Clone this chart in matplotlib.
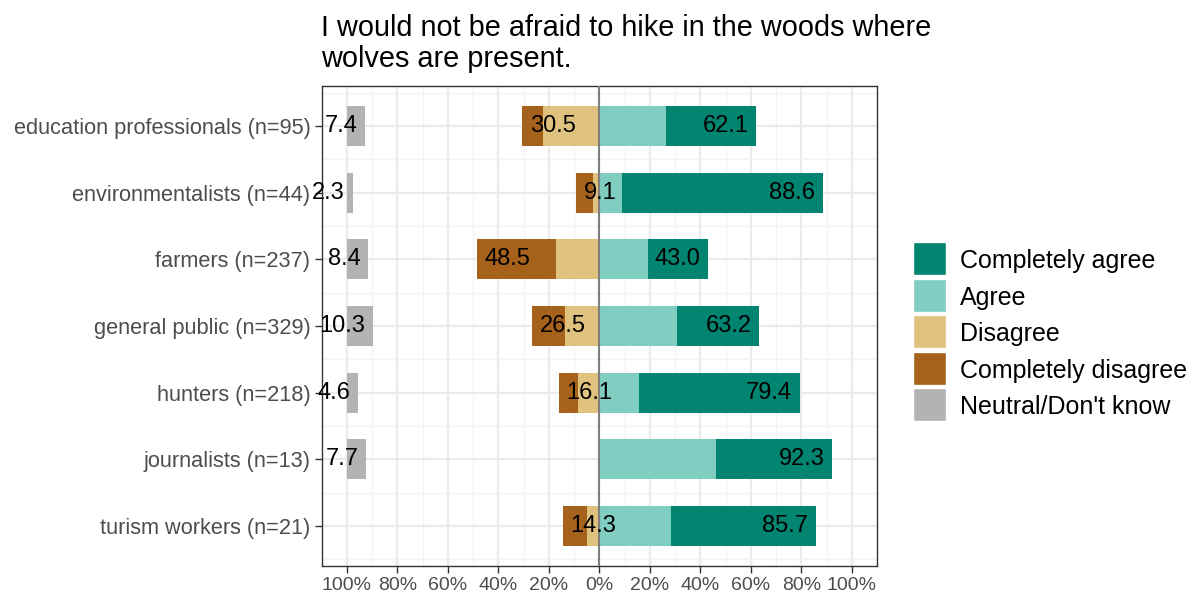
import matplotlib.pyplot as plt
import matplotlib.patches as mpatches
import numpy as np

plt.rcParams['font.family'] = ['Liberation Sans', 'DejaVu Sans']

# data (percent of respondents)
groups = ['education professionals (n=95)', 'environmentalists (n=44)',
          'farmers (n=237)', 'general public (n=329)', 'hunters (n=218)',
          'journalists (n=13)', 'turism workers (n=21)']
completely_agree = [35.8, 79.5, 23.6, 32.5, 63.6, 46.1, 57.1]
agree = [26.3, 9.1, 19.4, 30.7, 15.8, 46.2, 28.6]
disagree = [22.1, 2.3, 17.3, 13.4, 8.3, 0.0, 4.8]
completely_disagree = [8.4, 6.8, 31.2, 13.1, 7.8, 0.0, 9.5]
neutral = [7.4, 2.3, 8.4, 10.3, 4.6, 7.7, 0.0]

legend_order = ['Completely agree', 'Agree', 'Disagree', 'Completely disagree', 'Neutral/Don\'t know']
colors = {'Completely agree': '#018571', 'Agree': '#80cdc1',
          'Disagree': '#dfc27d', 'Completely disagree': '#a6611a',
          'Neutral/Don\'t know': '#b3b3b3'}

W, H = 1199, 596
fig = plt.figure(figsize=(W / 100, H / 100), dpi=100)
ax = fig.add_axes([321.5 / W, 1 - 566 / H, (877 - 321.5) / W, (566 - 86) / H])

y = np.arange(len(groups))[::-1] + 1
h = 0.6
ca = np.array(completely_agree)
ag = np.array(agree)
di = np.array(disagree)
cd = np.array(completely_disagree)
ne = np.array(neutral)

ax.barh(y, ag, height=h, left=0, color=colors['Agree'], zorder=3)
ax.barh(y, ca, height=h, left=ag, color=colors['Completely agree'], zorder=3)
ax.barh(y, -di, height=h, left=0, color=colors['Disagree'], zorder=3)
ax.barh(y, -cd, height=h, left=-di, color=colors['Completely disagree'], zorder=3)
ax.barh(y, ne, height=h, left=-100, color=colors['Neutral/Don\'t know'], zorder=3)

pad = 3.0
fs = 17
for yi, a, c, d, k, n in zip(y, ag, ca, di, cd, ne):
    pos = a + c
    neg = d + k
    if pos > 0:
        ax.text(pos - pad, yi, f'{pos:.1f}', ha='right', va='center', fontsize=fs, zorder=5)
    if neg > 0:
        ax.text(-neg + pad, yi, f'{neg:.1f}', ha='left', va='center', fontsize=fs, zorder=5)
    if n > 0:
        ax.text(-100 + n - pad, yi, f'{n:.1f}', ha='right', va='center', fontsize=fs,
                zorder=5, clip_on=False)

ax.axvline(0, color='#7f7f7f', lw=1.5, zorder=4)

ax.set_xlim(-110, 110)
ax.set_ylim(0.4, len(groups) + 0.6)
xt = np.arange(-100, 101, 20)
ax.set_xticks(xt)
ax.set_xticklabels([f'{abs(v)}%' for v in xt])
ax.set_xticks(np.arange(-90, 91, 20), minor=True)
ax.set_yticks(y)
ax.set_yticklabels(groups)
ax.set_yticks(np.arange(0.5, len(groups) + 0.6, 1), minor=True)
ax.grid(which='major', color='#ebebeb', lw=1.6, zorder=0)
ax.grid(which='minor', color='#f2f2f2', lw=0.9, zorder=0)
ax.tick_params(which='major', length=5, width=1, color='#333333', labelcolor='#4d4d4d', pad=3)
ax.tick_params(axis='y', labelsize=15.7)
ax.tick_params(axis='x', labelsize=14)
ax.tick_params(which='minor', length=0)
for s in ax.spines.values():
    s.set_color('#333333')
    s.set_linewidth(1.0)

fig.text(321 / W, 1 - 14 / H, 'I would not be afraid to hike in the woods where\nwolves are present.',
         ha='left', va='top', fontsize=20.8, linespacing=1.12)

# legend drawn as keys + labels in figure pixels
key_x, key_top, key_size, step = 913, 242, 33, 36.6
for i, name in enumerate(legend_order):
    top = key_top + i * step
    fig.patches.append(mpatches.Rectangle((key_x / W, 1 - (top + key_size) / H),
                                          key_size / W, key_size / H,
                                          facecolor=colors[name], edgecolor='white', lw=1,
                                          transform=fig.transFigure, figure=fig))
    fig.text(960 / W, 1 - (top + key_size / 2) / H, name, ha='left', va='center_baseline',
             fontsize=18)

fig.savefig('out.png', dpi=100)
